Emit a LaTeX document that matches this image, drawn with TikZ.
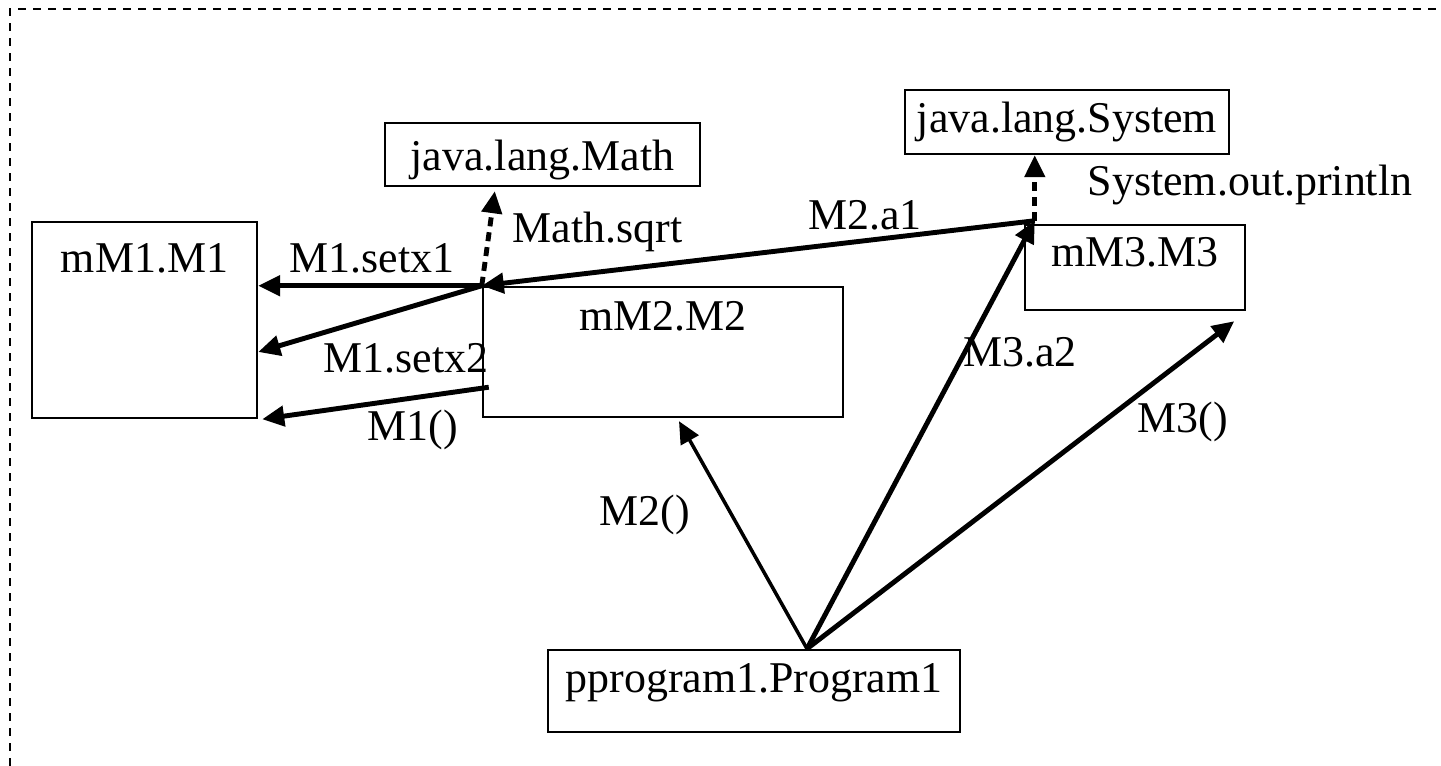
\documentclass[tikz,border=0pt]{standalone}
\usepackage{fontspec}
\setmainfont{Liberation Serif}
\usetikzlibrary{arrows.meta, positioning}

\tikzset{
  box/.style={draw, line width=0.7pt, inner sep=0pt},
  call/.style={line width=1.4pt, -{Triangle[length=0.22cm,width=0.2cm]}},
  uses/.style={call, dash pattern=on 0.09cm off 0.06cm},
  lbl/.style={inner sep=0pt, anchor=base},
  frame/.style={line width=0.8pt, dash pattern=on 0.08cm off 0.07cm},
}

\begin{document}
\begin{tikzpicture}[every node/.style={font=\fontsize{12.5}{15}\selectfont}]
        \useasboundingbox (0,0) rectangle (14.41,7.66);

        % Draw the dashed frame
        \draw[frame] (0.10,0) -- (0.10,7.57) -- (14.41,7.57);

        % Draw the boxes
        \node[box, minimum width=2.25cm, text height=0.51cm, text depth=1.45cm] (m1) at (1.445,4.46) {mM1.M1};
        \node[box, minimum width=3.15cm, text height=0.48cm, text depth=0.15cm] (math) at (5.425,6.115) {java.lang.Math};
        \node[box, minimum width=3.60cm, text height=0.44cm, text depth=0.86cm] (m2) at (6.63,4.14) {mM2.M2};
        \node[box, minimum width=3.24cm, text height=0.43cm, text depth=0.21cm] (sys) at (10.67,6.44) {java.lang.System};
        \node[box, minimum width=2.20cm, text height=0.42cm, text depth=0.43cm] (m3) at (11.35,4.985) {mM3.M3};
        \node[box, minimum width=4.12cm, text height=0.43cm, text depth=0.39cm] (prog) at (7.54,0.75) {pprogram1.Program1};

        \coordinate (hub) at ([shift={(0.11,0.03)}]m3.north west);
        \coordinate (src) at ([xshift=0.53cm]prog.north);

        % Draw the calls
        \draw[call] (m2.north west) -- (m2.north west -| m1.east);
        \draw[call] (m2.north west) -- ([yshift=-0.32cm]m1.east);
        \draw[call] ([shift={(0.07,0.31)}]m2.south west) -- ([xshift=0.04cm]m1.south east);
        \draw[uses] (m2.north west) -- ([shift={(1.11,-0.04)}]math.south west);
        \draw[call] (hub) -- (m2.north west);
        \draw[uses] (hub) -- (hub |- sys.south);
        \draw[call] (src) -- (hub);
        \draw[call] (src) -- ([shift={(-0.12,-0.1)}]m3.south east);
        \draw[call, line width=1pt] (src) -- ([shift={(0.16,-0.03)}]m2.south);

        % Add text next to the calls
        \node[lbl] (lsetx1) at (3.72,4.93) {M1.setx1};
        \node[lbl] (lsetx2) at (4.06,3.93) {M1.setx2};
        \node[lbl] (lnew1) at (4.13,3.25) {M1()};
        \node[lbl, anchor=base west] (lsqrt) at (5.12,5.23) {Math.sqrt};
        \node[lbl] (la1) at (8.65,5.36) {M2.a1};
        \node[lbl, anchor=base west] (lprint) at (10.87,5.70) {System.out.println};
        \node[lbl] (la2) at (10.20,3.99) {M3.a2};
        \node[lbl] (lnew3) at (11.83,3.33) {M3()};
        \node[lbl] (lnew2) at (6.45,2.40) {M2()};
    \end{tikzpicture}
\end{document}
